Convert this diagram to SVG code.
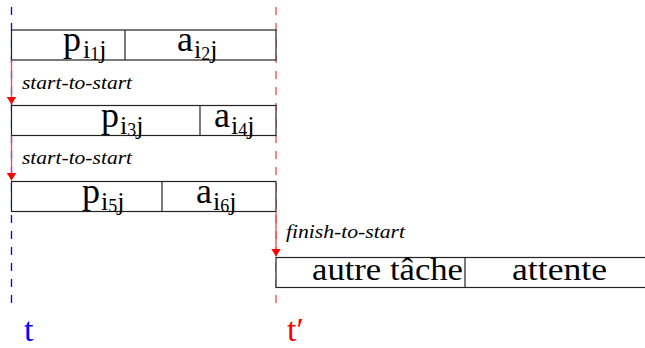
<svg xmlns="http://www.w3.org/2000/svg" width="645" height="348" viewBox="0 0 645 348">
<defs>
<marker id="ah" viewBox="0 0 8 10" refX="8" refY="5" markerWidth="8" markerHeight="10" markerUnits="userSpaceOnUse" orient="auto">
<path d="M0,0 L8,5 L0,10 Z" fill="#f00"/>
</marker>
</defs>
<style>
.box{fill:#fff;stroke:#222;stroke-width:1.2}
.m{font-family:"Liberation Serif",serif;font-size:36px;fill:#000}
.s{font-size:26px}
.ss{font-size:18px}
.lbl{font-family:"Liberation Serif",serif;font-style:italic;font-size:18px;fill:#000}
.big{font-family:"Liberation Serif",serif;font-size:32px;fill:#000}
.conn{stroke:#f44;stroke-width:1.3;fill:none}
</style>
<rect width="645" height="348" fill="#fff"/>
<g id="timelines">
<path d="M11.5,7 V303" stroke="#00f" stroke-width="1.3" stroke-dasharray="8 8"/>
<path d="M276,7 V303" stroke="#f44" stroke-width="1.3" stroke-dasharray="8 8"/>
</g>
<g id="task1">
<rect class="box" x="11.5" y="30" width="264.5" height="30"/>
<line class="box" x1="125" y1="30" x2="125" y2="60"/>
<text class="m" x="63" y="51">p</text>
<text class="m" x="83" y="58"><tspan class="s">i</tspan><tspan class="ss" dy="2">1</tspan><tspan class="s" dy="-2">j</tspan></text>
<text class="m" x="177" y="51">a</text>
<text class="m" x="194" y="58"><tspan class="s">i</tspan><tspan class="ss" dy="2">2</tspan><tspan class="s" dy="-2">j</tspan></text>
</g>
<g id="task2">
<rect class="box" x="11.5" y="105.5" width="264.5" height="30"/>
<line class="box" x1="200" y1="105.5" x2="200" y2="135.5"/>
<text class="m" x="101" y="127">p</text>
<text class="m" x="120" y="134"><tspan class="s">i</tspan><tspan class="ss" dy="2">3</tspan><tspan class="s" dy="-2">j</tspan></text>
<text class="m" x="214" y="127">a</text>
<text class="m" x="231" y="134"><tspan class="s">i</tspan><tspan class="ss" dy="2">4</tspan><tspan class="s" dy="-2">j</tspan></text>
</g>
<g id="task3">
<rect class="box" x="11.5" y="181.5" width="264.5" height="30"/>
<line class="box" x1="162" y1="181.5" x2="162" y2="211.5"/>
<text class="m" x="82" y="203">p</text>
<text class="m" x="101" y="210"><tspan class="s">i</tspan><tspan class="ss" dy="2">5</tspan><tspan class="s" dy="-2">j</tspan></text>
<text class="m" x="196" y="203">a</text>
<text class="m" x="213" y="210"><tspan class="s">i</tspan><tspan class="ss" dy="2">6</tspan><tspan class="s" dy="-2">j</tspan></text>
</g>
<g id="task4">
<rect class="box" x="276" y="257.5" width="375" height="30"/>
<line class="box" x1="465" y1="257.5" x2="465" y2="287.5"/>
<text class="big" x="312" y="280" textLength="151" lengthAdjust="spacingAndGlyphs">autre tâche</text>
<text class="big" x="512" y="280" textLength="95" lengthAdjust="spacingAndGlyphs">attente</text>
</g>
<g id="connectors">
<line class="conn" x1="11.5" y1="60" x2="11.5" y2="104.5" marker-end="url(#ah)"/>
<text class="lbl" x="22" y="89" textLength="110" lengthAdjust="spacingAndGlyphs">start-to-start</text>
<line class="conn" x1="11.5" y1="135.5" x2="11.5" y2="180.5" marker-end="url(#ah)"/>
<text class="lbl" x="22" y="164" textLength="110" lengthAdjust="spacingAndGlyphs">start-to-start</text>
<line class="conn" x1="276" y1="211.5" x2="276" y2="256.5" marker-end="url(#ah)"/>
<text class="lbl" x="286" y="238" textLength="119" lengthAdjust="spacingAndGlyphs">finish-to-start</text>
</g>
<g id="labels">
<text class="big" x="24" y="341" style="fill:#00f;font-size:34px">t</text>
<text class="big" x="287" y="341" style="fill:#f00;font-size:34px">t′</text>
</g>
</svg>
